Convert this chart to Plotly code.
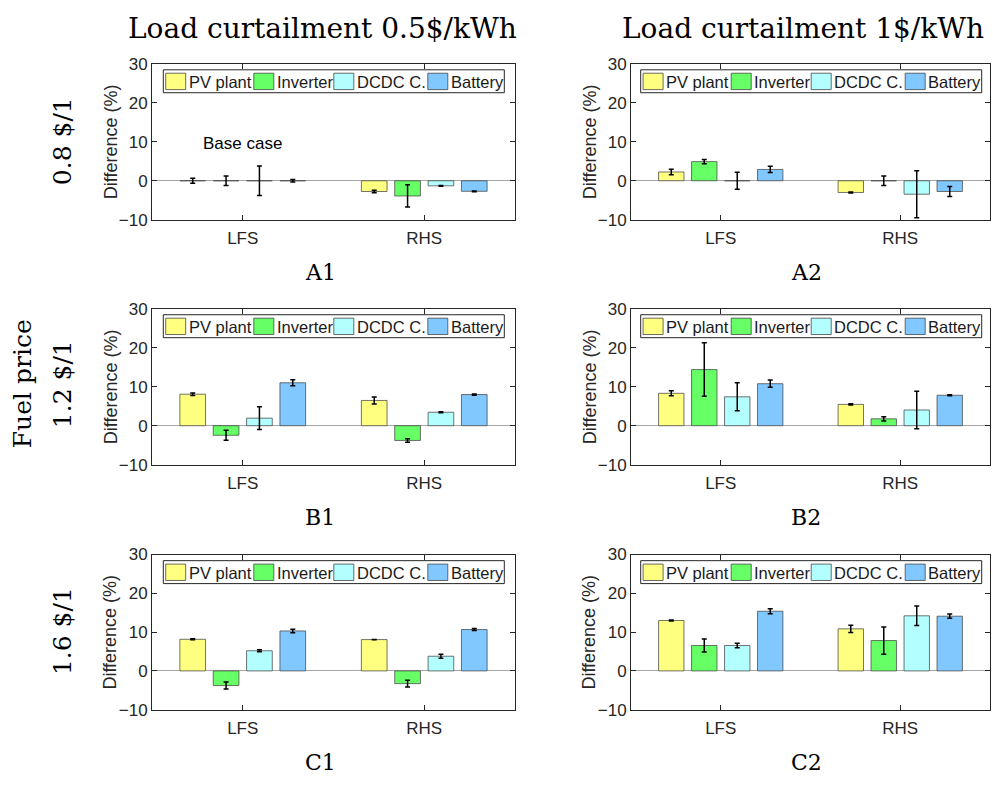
import plotly.graph_objects as go

W, H = 993, 788

categories = ["LFS", "RHS"]
series_names = ["PV plant", "Inverter", "DCDC C.", "Battery"]
series_colors = ["#FFFF80", "#66FF66", "#B3FFFF", "#80C8FF"]

panel_labels = ["A1", "A2", "B1", "B2", "C1", "C2"]
column_titles = ["Load curtailment 0.5$/kWh", "Load curtailment 1$/kWh"]
row_labels = ["0.8 $/1", "1.2 $/1", "1.6 $/1"]
row_group_label = "Fuel price"
y_title = "Difference (%)"
y_ticks = [-10, 0, 10, 20, 30]

# values: one row per series (PV plant, Inverter, DCDC C., Battery), columns = [LFS, RHS]
a1_values = [[0.0, -2.75], [0.0, -3.9], [0.0, -1.3], [0.0, -2.7]]
a1_errors = [[0.65, 0.3], [1.2, 2.85], [3.75, 0.1], [0.35, 0.1]]
a2_values = [[2.25, -3.0], [4.9, 0.0], [0.0, -3.45], [2.9, -2.75]]
a2_errors = [[0.7, 0.15], [0.55, 1.2], [2.2, 6.0], [0.8, 1.3]]
b1_values = [[8.07, 6.47], [-2.45, -3.78], [1.93, 3.45], [11.0, 7.98]]
b1_errors = [[0.3, 0.9], [1.26, 0.45], [2.9, 0.1], [0.75, 0.15]]
b2_values = [[8.3, 5.46], [14.37, 1.76], [7.4, 4.03], [10.76, 7.8]]
b2_errors = [[0.63, 0.15], [6.85, 0.55], [3.6, 4.8], [0.92, 0.1]]
c1_values = [[8.15, 8.07], [-3.78, -3.28], [5.2, 3.78], [10.3, 10.67]]
c1_errors = [[0.15, 0.05], [0.9, 0.9], [0.25, 0.5], [0.45, 0.25]]
c2_values = [[13.0, 10.84], [6.55, 7.82], [6.55, 14.2], [15.38, 14.1]]
c2_errors = [[0.15, 0.95], [1.7, 3.5], [0.6, 2.5], [0.67, 0.55]]

panel_values = [a1_values, a2_values, b1_values, b2_values, c1_values, c2_values]
panel_errors = [a1_errors, a2_errors, b1_errors, b2_errors, c1_errors, c2_errors]

base_case_text = "Base case"
base_case_y = 9.6

# layout in pixels
col_x = [(152, 515), (631, 990)]
row_y = [(56, 216), (307, 467), (559, 718)]
legend_left = [163.3, 640.7]
legend_w = 341
legend_h = 23.5
patch_off = [2.4, 90.5, 170.5, 264.5]
patch_w = 20

SANS = "Liberation Sans, Arial, sans-serif"
SERIF = "DejaVu Serif, serif"
AXC = "#262626"


def fx(x):
    return x / W


def fy(y):
    return 1 - y / H


fig = go.Figure()
shapes = []
annotations = []

for p in range(6):
    r, c = divmod(p, 2)
    idx = "" if p == 0 else str(p + 1)
    xa, ya = "x" + idx, "y" + idx
    for s in range(4):
        fig.add_trace(go.Bar(
            x=categories, y=panel_values[p][s], name=series_names[s],
            xaxis=xa, yaxis=ya, showlegend=False,
            marker=dict(color=series_colors[s], line=dict(color="rgba(70,70,70,0.75)", width=1)),
            error_y=dict(type="data", array=panel_errors[p][s], color="black", thickness=1.5, width=2.5),
        ))
    x0, x1 = col_x[c]
    y0, y1 = row_y[r]
    fig.layout["xaxis" + idx] = dict(
        domain=[fx(x0), fx(x1)], anchor=ya, type="category",
        showline=True, linecolor=AXC, linewidth=1, mirror="ticks",
        ticks="inside", ticklen=5, tickcolor=AXC,
        tickfont=dict(family=SANS, size=17, color="#262626"), ticklabelstandoff=3,
        showgrid=False, zeroline=False, fixedrange=True,
    )
    fig.layout["yaxis" + idx] = dict(
        domain=[fy(y1), fy(y0)], anchor=xa, range=[-10, 30], tickvals=y_ticks,
        showline=True, linecolor=AXC, linewidth=1, mirror="ticks",
        ticks="inside", ticklen=5, tickcolor=AXC,
        tickfont=dict(family=SANS, size=17, color="#262626"),
        showgrid=False, zeroline=True, zerolinecolor="#a6a6a6", zerolinewidth=1,
        fixedrange=True,
    )
    # y axis title
    annotations.append(dict(text=y_title, xref="paper", yref="paper",
                            x=fx(x0 - 41.5), y=fy((y0 + y1) / 2), xanchor="center", yanchor="middle",
                            textangle=-90, showarrow=False,
                            font=dict(family=SANS, size=18, color="#262626")))
    # legend box
    bl = legend_left[c]
    bt = y0 + 6.3
    shapes.append(dict(type="rect", xref="paper", yref="paper",
                       x0=fx(bl), x1=fx(bl + legend_w), y0=fy(bt + legend_h), y1=fy(bt),
                       line=dict(color=AXC, width=1), fillcolor="white", layer="above"))
    for s in range(4):
        px0 = bl + patch_off[s]
        shapes.append(dict(type="rect", xref="paper", yref="paper",
                           x0=fx(px0), x1=fx(px0 + patch_w), y0=fy(bt + 20.3), y1=fy(bt + 3.5),
                           line=dict(color="rgba(70,70,70,0.8)", width=1), fillcolor=series_colors[s], layer="above"))
        annotations.append(dict(text=series_names[s], xref="paper", yref="paper",
                                x=fx(px0 + patch_w + 1.2), y=fy(bt + legend_h / 2 + 0.5),
                                xanchor="left", yanchor="middle", showarrow=False,
                                font=dict(family=SANS, size=16.5, color="#1a1a1a")))
    # panel label
    annotations.append(dict(text=panel_labels[p], xref="paper", yref="paper",
                            x=fx(320 if c == 0 else 806), y=fy(y1 + 54), xanchor="center", yanchor="middle",
                            showarrow=False, font=dict(family=SERIF, size=22, color="black")))

# base case annotation on A1
annotations.append(dict(text=base_case_text, xref="x", yref="y", x=categories[0], y=base_case_y,
                        xanchor="center", yanchor="middle", showarrow=False,
                        font=dict(family=SANS, size=17, color="black")))

# column titles
for c in range(2):
    annotations.append(dict(text=column_titles[c], xref="paper", yref="paper",
                            x=fx(322.5 if c == 0 else 803), y=fy(20), xanchor="center", yanchor="middle",
                            showarrow=False, font=dict(family=SERIF, size=28, color="black")))

# row labels
row_centers = [136, 385, 638]
for r in range(3):
    annotations.append(dict(text=row_labels[r], xref="paper", yref="paper",
                            x=fx(62.5), y=fy(row_centers[r]), xanchor="center", yanchor="middle",
                            textangle=-90, showarrow=False, font=dict(family=SERIF, size=25, color="black")))
annotations.append(dict(text=row_group_label, xref="paper", yref="paper",
                        x=fx(22.5), y=fy(384), xanchor="center", yanchor="middle",
                        textangle=-90, showarrow=False, font=dict(family=SERIF, size=25, color="black")))

fig.update_layout(
    width=W, height=H, margin=dict(l=0, r=0, t=0, b=0),
    paper_bgcolor="white", plot_bgcolor="white",
    barmode="group", bargap=0.265, bargroupgap=0.23,
    shapes=shapes, annotations=annotations, showlegend=False,
)

post = (
    "var h=document.documentElement,b=document.body;"
    "h.style.margin='0';h.style.padding='0';h.style.overflow='hidden';h.style.height='788px';"
    "b.style.margin='0';b.style.padding='0';b.style.overflow='hidden';b.style.height='788px';"
    "var d=document.getElementById('{plot_id}');"
    "d.style.position='absolute';d.style.left='0px';d.style.top='0px';"
)
fig.write_html("out.html", config={"displayModeBar": False}, post_script=post)
